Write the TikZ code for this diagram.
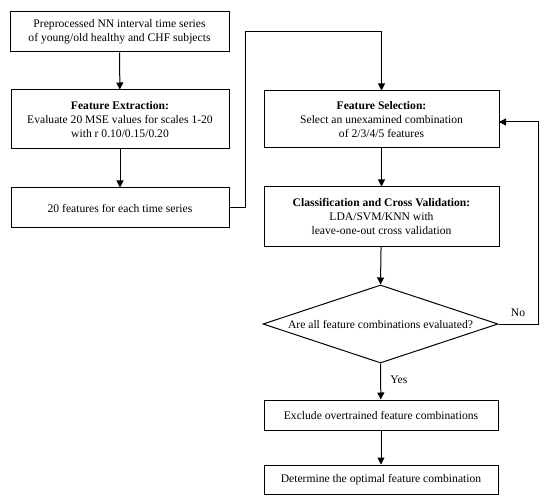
\documentclass[tikz,border=0pt]{standalone}
\usepackage{fontspec}
\setmainfont{Liberation Serif}
\usetikzlibrary{shapes.geometric,arrows.meta}
\begin{document}
\begin{tikzpicture}[x=1pt,y=-1pt,
  box/.style={draw, line width=1pt, align=center, font=\fontsize{11.6}{14}\selectfont, inner sep=0pt},
  arr/.style={line width=1pt, -{Triangle[length=7pt,width=7pt]}},
  lbl/.style={font=\fontsize{11.6}{14}\selectfont}]
\useasboundingbox (0,0) rectangle (550,503);
\node[box, minimum width=219pt, minimum height=40pt] (b1) at (119.5,32) {Preprocessed NN interval time series\\of young/old healthy and CHF subjects};
\node[box, minimum width=218pt, minimum height=59pt] (b2) at (120,119.5) {\textbf{Feature Extraction:}\\Evaluate 20 MSE values for scales 1-20\\with r 0.10/0.15/0.20};
\node[box, minimum width=218pt, minimum height=40pt] (b3) at (120,208) {20 features for each time series};
\node[box, minimum width=235pt, minimum height=57pt] (b4) at (381.5,119.5) {\textbf{Feature Selection:}\\Select an unexamined combination\\of 2/3/4/5 features};
\node[box, minimum width=235pt, minimum height=59pt] (b5) at (381.5,216.5) {\textbf{Classification and Cross Validation:}\\LDA/SVM/KNN with\\leave-one-out cross validation};
\node[box, diamond, aspect=3.2, minimum width=235pt, minimum height=78pt] (d) at (380.5,324) {Are all feature combinations evaluated?};
\node[box, minimum width=234pt, minimum height=30pt] (b6) at (381,415) {Exclude overtrained feature combinations};
\node[box, minimum width=234pt, minimum height=29pt] (b7) at (381,479.5) {Determine the optimal feature combination};
\coordinate (c1) at (245,208);
\coordinate (c2) at (245,32);
\coordinate (c3) at (381.5,32);
\coordinate (n1) at (538,324);
\coordinate (n2) at (538,122);
\coordinate (b4e) at (499,122);
\draw[arr] (b1) -- (b2);
\draw[arr] (b2) -- (b3);
\draw[arr] (b3.east) -- (c1) -- (c2) -- (c3) -- (b4.north);
\draw[arr] (b4) -- (b5);
\draw[arr] (b5) -- (d.north);
\draw[arr] (d.south) -- node[lbl, right=6pt, pos=0.45] (yes) {Yes} (b6);
\draw[arr] (b6) -- (b7);
\draw[arr] (d.east) -- (n1) -- (n2) -- (b4e);
\node[lbl] (no) at (518,313) {No};
\end{tikzpicture}
\end{document}
